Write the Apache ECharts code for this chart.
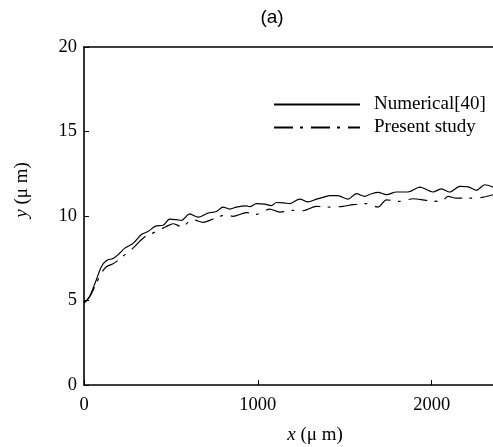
<!DOCTYPE html>
<html>
<head>
<meta charset="utf-8">
<script src="https://cdn.jsdelivr.net/npm/echarts@6/dist/echarts.min.js"></script>
<style>html,body{margin:0;padding:0;background:#fff;}#c{width:493px;height:447px;}</style>
</head>
<body>
<div id="c"></div>
<script>
const numX = [0, 15, 35, 70, 100, 130, 170, 205, 235, 282, 330, 368, 416, 455, 493, 532, 560, 608, 656, 713, 762, 800, 838, 877, 934, 953, 992, 1040, 1078, 1107, 1150, 1184, 1241, 1289, 1337, 1380, 1414, 1460, 1519, 1567, 1615, 1650, 1692, 1740, 1797, 1864, 1932, 2008, 2056, 2104, 2162, 2210, 2258, 2305, 2353];
const numY = [4.85, 5.0, 5.3, 6.2, 7.0, 7.37, 7.5, 7.8, 8.1, 8.38, 8.9, 9.08, 9.42, 9.45, 9.82, 9.78, 9.74, 10.13, 9.93, 10.17, 10.27, 10.53, 10.41, 10.53, 10.6, 10.55, 10.73, 10.7, 10.61, 10.8, 10.78, 10.73, 11.0, 10.83, 11.0, 11.12, 11.2, 11.2, 11.0, 11.32, 11.16, 11.3, 11.4, 11.26, 11.42, 11.42, 11.71, 11.42, 11.61, 11.42, 11.75, 11.72, 11.52, 11.85, 11.71];
const preX = [0, 15, 35, 71, 100, 129, 167, 186, 234, 282, 340, 416, 474, 512, 560, 627, 685, 742, 819, 857, 934, 992, 1030, 1068, 1126, 1203, 1260, 1337, 1414, 1490, 1548, 1625, 1692, 1740, 1816, 1893, 1970, 2056, 2094, 2142, 2219, 2290, 2353];
const preY = [4.85, 5.0, 5.25, 6.02, 6.62, 7.0, 7.17, 7.3, 7.7, 8.1, 8.69, 9.09, 9.38, 9.54, 9.38, 9.78, 9.62, 9.82, 10.07, 9.98, 10.2, 10.1, 10.25, 10.41, 10.23, 10.33, 10.31, 10.57, 10.53, 10.57, 10.67, 10.73, 10.53, 10.96, 10.86, 11.02, 10.92, 10.86, 11.16, 11.06, 11.06, 11.1, 11.26];
const seriesNames = ['Numerical[40]', 'Present study'];
const yTicks = [0, 5, 10, 15, 20];
const xTicks = [0, 1000, 2000];

const serif = '"Liberation Serif", "DejaVu Serif", serif';
const chart = echarts.init(document.getElementById('c'), null, {renderer: 'canvas'});
chart.setOption({
  animation: false,
  backgroundColor: '#fff',
  title: {
    text: '(a)', left: 272, top: 8, textAlign: 'center', padding: 0,
    textStyle: {fontFamily: '"Liberation Sans Narrow", "Liberation Sans", sans-serif', fontSize: 19, fontWeight: 'normal', color: '#000'}
  },
  legend: {
    orient: 'vertical', left: 273, top: 95, padding: 0, itemWidth: 86, itemHeight: 14, itemGap: 4,
    itemStyle: {color: 'rgba(0,0,0,0)', borderWidth: 0, opacity: 0},
    textStyle: {fontFamily: serif, fontSize: 19, color: '#000', padding: [0, 0, 0, 9]},
    data: seriesNames
  },
  grid: {left: 84, top: 47, width: 409, bottom: 62, containLabel: false},
  xAxis: [{
    type: 'value', min: 0, max: 2353, interval: 1000, position: 'bottom',
    axisLine: {show: true, lineStyle: {color: '#000', width: 1.6}},
    axisTick: {show: true, inside: true, length: 5, lineStyle: {color: '#000', width: 1}},
    axisLabel: {color: '#000', fontFamily: serif, fontSize: 18.5, margin: 11, showMaxLabel: false,
      formatter: v => String(v)},
    splitLine: {show: false}
  }, {
    type: 'value', min: 0, max: 2353, position: 'top',
    axisLine: {show: true, lineStyle: {color: '#000', width: 1.6}},
    axisTick: {show: false}, axisLabel: {show: false}, splitLine: {show: false}
  }],
  yAxis: {
    type: 'value', min: yTicks[0], max: yTicks[yTicks.length - 1], interval: 5,
    axisLine: {show: true, lineStyle: {color: '#000', width: 1.6}},
    axisTick: {show: true, inside: true, length: 5, lineStyle: {color: '#000', width: 1}},
    axisLabel: {color: '#000', fontFamily: serif, fontSize: 18.5, margin: 7, formatter: v => String(v)},
    splitLine: {show: false}
  },
  graphic: [{
    type: 'text', x: 315, y: 435,
    style: {
      text: '{i|x} (μ m)', align: 'center', verticalAlign: 'middle',
      font: '19px ' + serif, fill: '#000',
      rich: {i: {fontStyle: 'italic', fontFamily: serif, fontSize: 19, fill: '#000'}}
    }
  }, {
    type: 'text', x: 22, y: 190, rotation: Math.PI / 2,
    style: {
      text: '{i|y} (μ m)', align: 'center', verticalAlign: 'middle',
      font: '19px ' + serif, fill: '#000',
      rich: {i: {fontStyle: 'italic', fontFamily: serif, fontSize: 19, fill: '#000'}}
    }
  }],
  series: [{
    name: seriesNames[0], type: 'line', symbol: 'none', smooth: 0.3,
    lineStyle: {color: '#000', width: 1.2, type: 'solid'},
    itemStyle: {color: '#000'},
    data: numX.map((x, i) => [x, numY[i]])
  }, {
    name: seriesNames[1], type: 'line', symbol: 'none', smooth: 0.3,
    lineStyle: {color: '#000', width: 1.2, type: [19, 7, 3, 8]},
    itemStyle: {color: '#000'},
    data: preX.map((x, i) => [x, preY[i]])
  }]
});
</script>
</body>
</html>
